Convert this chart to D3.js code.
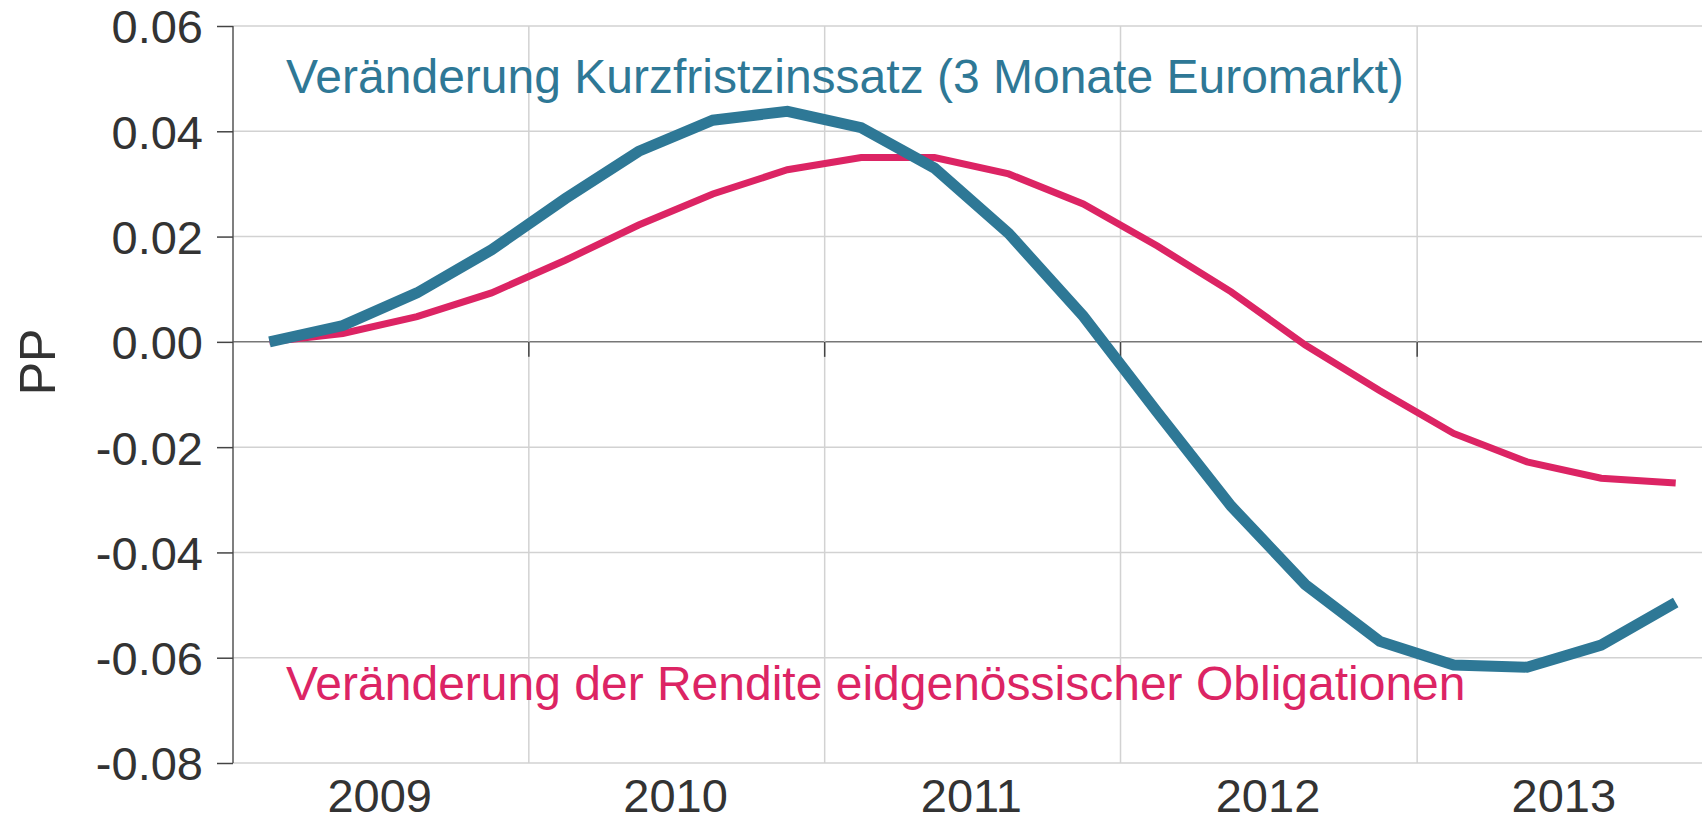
<!DOCTYPE html>
<html>
<head>
<meta charset="utf-8">
<script src="https://cdn.jsdelivr.net/npm/d3@7"></script>
<style>
  body { margin: 0; background: #fff; }
  svg { display: block; font-family: "Liberation Sans", Arial, sans-serif; }
  .tickText { fill: #333; font-size: 47px; }
</style>
</head>
<body>
<div id="chart"></div>
<script>
// quarterly observations, 2009 Q1 .. 2013 Q4
const quarters = [
  "2009-Q1", "2009-Q2", "2009-Q3", "2009-Q4",
  "2010-Q1", "2010-Q2", "2010-Q3", "2010-Q4",
  "2011-Q1", "2011-Q2", "2011-Q3", "2011-Q4",
  "2012-Q1", "2012-Q2", "2012-Q3", "2012-Q4",
  "2013-Q1", "2013-Q2", "2013-Q3", "2013-Q4"
];

// change in short term rate (3 month euromarket)
const shortRate = [
  0.0000, 0.0031, 0.0093, 0.0175, 0.0272, 0.0362, 0.0421, 0.0438,
  0.0407, 0.0330, 0.0206, 0.0049, -0.0134, -0.0312, -0.0461, -0.0569,
  -0.0614, -0.0618, -0.0576, -0.0495
];

// change in federal bond yield
const bondYield = [
  0.0000, 0.0016, 0.0048, 0.0093, 0.0155, 0.0222, 0.0281, 0.0327,
  0.0350, 0.0350, 0.0319, 0.0262, 0.0182, 0.0095, -0.0006, -0.0093,
  -0.0174, -0.0228, -0.0259, -0.0268
];

const yTicks = [0.06, 0.04, 0.02, 0.00, -0.02, -0.04, -0.06, -0.08];
const years = [2009, 2010, 2011, 2012, 2013];

const svgWidth = 1702;
const svgHeight = 823;

const plot = { left: 233, top: 26, bottom: 763 };

const svg = d3.select("#chart")
  .append("svg")
  .attr("width", svgWidth)
  .attr("height", svgHeight);

// quarter string -> middle of that quarter
function quarterMid(q) {
  const year = +q.slice(0, 4);
  const n = +q.slice(6);
  const start = new Date(year, (n - 1) * 3, 1);
  const end = new Date(year, n * 3, 1);
  return new Date((start.getTime() + end.getTime()) / 2);
}

const x = d3.scaleTime()
  .domain([new Date(2009, 0, 1), new Date(2014, 0, 1)])
  .range([plot.left, 1713]);

const y = d3.scaleLinear()
  .domain([-0.08, 0.06])
  .range([plot.bottom, plot.top]);

// horizontal grid
svg.append("g")
  .selectAll("line")
  .data(yTicks)
  .enter()
  .append("line")
  .attr("x1", plot.left)
  .attr("x2", svgWidth)
  .attr("y1", d => y(d))
  .attr("y2", d => y(d))
  .attr("stroke", d => d === 0 ? "#777" : "#d2d2d2")
  .attr("stroke-width", 1.5);

// vertical grid at year boundaries
const bounds = years.slice(1).map(yr => new Date(yr, 0, 1));
svg.append("g")
  .selectAll("line")
  .data(bounds)
  .enter()
  .append("line")
  .attr("x1", d => x(d))
  .attr("x2", d => x(d))
  .attr("y1", plot.top)
  .attr("y2", plot.bottom)
  .attr("stroke", "#d2d2d2")
  .attr("stroke-width", 1.5);

// small ticks hanging off the zero line
svg.append("g")
  .selectAll("line")
  .data(bounds)
  .enter()
  .append("line")
  .attr("x1", d => x(d))
  .attr("x2", d => x(d))
  .attr("y1", y(0))
  .attr("y2", y(0) + 15)
  .attr("stroke", "#444")
  .attr("stroke-width", 1.5);

// y axis
const leftAxis = d3.axisLeft(y)
  .tickValues(yTicks)
  .tickSize(16)
  .tickPadding(14)
  .tickFormat(d => d.toFixed(2));

const yAxisG = svg.append("g")
  .attr("transform", `translate(${plot.left}, 0)`)
  .call(leftAxis);

yAxisG.select(".domain")
  .attr("stroke", "#555")
  .attr("stroke-width", 1.5)
  .attr("d", `M0,${plot.top}V${plot.bottom}`);
yAxisG.selectAll(".tick line")
  .attr("stroke", "#444")
  .attr("stroke-width", 1.5);
yAxisG.selectAll(".tick text")
  .attr("class", "tickText")
  .attr("font-family", null)
  .attr("font-size", null)
  .attr("dy", "0.36em");

// year labels, centered in each year
svg.append("g")
  .selectAll("text")
  .data(years)
  .enter()
  .append("text")
  .attr("class", "tickText")
  .attr("x", d => x(new Date(d, 6, 1)))
  .attr("y", 812)
  .attr("text-anchor", "middle")
  .text(d => d);

// y axis title
svg.append("text")
  .attr("transform", `translate(55, 362) rotate(-90)`)
  .attr("text-anchor", "middle")
  .attr("fill", "#333")
  .attr("font-size", "50px")
  .text("PP");

// lines
const line = d3.line()
  .x((d, i) => x(quarterMid(quarters[i])))
  .y(d => y(d));

svg.append("path")
  .datum(bondYield)
  .attr("fill", "none")
  .attr("stroke", "#dc2464")
  .attr("stroke-width", 7)
  .attr("stroke-linejoin", "miter")
  .attr("d", line);

svg.append("path")
  .datum(shortRate)
  .attr("fill", "none")
  .attr("stroke", "#2e7896")
  .attr("stroke-width", 11)
  .attr("stroke-linejoin", "miter")
  .attr("d", line);

// series labels
svg.append("text")
  .attr("x", 286)
  .attr("y", 93)
  .attr("fill", "#2e7896")
  .attr("font-size", "48px")
  .text("Veränderung Kurzfristzinssatz (3 Monate Euromarkt)");

svg.append("text")
  .attr("x", 286)
  .attr("y", 700)
  .attr("fill", "#dc2464")
  .attr("font-size", "48px")
  .text("Veränderung der Rendite eidgenössischer Obligationen");
</script>
</body>
</html>
